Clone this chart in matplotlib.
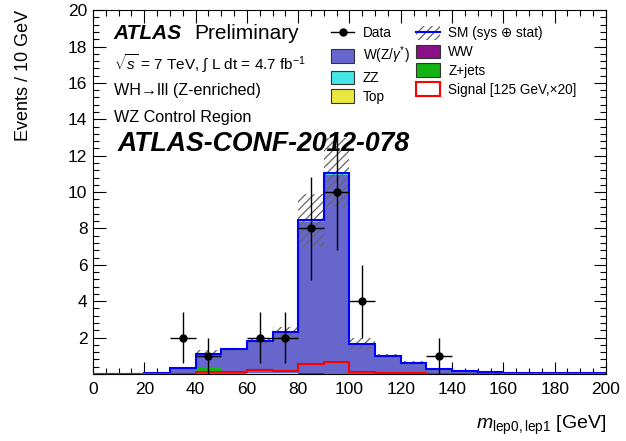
import numpy as np
import matplotlib
matplotlib.use('Agg')
import matplotlib.pyplot as plt
from matplotlib.patches import Patch
from matplotlib.lines import Line2D
from matplotlib.ticker import MultipleLocator, FuncFormatter

plt.rcParams['font.family'] = ['Liberation Sans', 'DejaVu Sans']
plt.rcParams['mathtext.fontset'] = 'custom'
plt.rcParams['mathtext.rm'] = 'Liberation Sans'
plt.rcParams['mathtext.it'] = 'Liberation Sans:italic'
plt.rcParams['mathtext.bf'] = 'Liberation Sans:bold'
plt.rcParams['hatch.linewidth'] = 0.9

# m(lep0,lep1) bins, 10 GeV wide
edges = np.arange(0, 201, 10)

# stacked backgrounds (bottom -> top)
zjets = [0, 0, 0, 0, 0.35, 0, 0.02, 0, 0, 0, 0, 0, 0, 0, 0, 0, 0, 0, 0, 0]
top = [0, 0, 0, 0, 0, 0, 0.03, 0.05, 0.02, 0, 0, 0, 0, 0, 0, 0, 0, 0, 0, 0]
ww = [0, 0, 0, 0.01, 0, 0.01, 0.02, 0.02, 0.01, 0.01, 0.01, 0.01, 0, 0, 0, 0, 0, 0, 0, 0]
wz = [0, 0, 0.05, 0.3, 0.70, 1.30, 1.68, 2.18, 8.34, 10.95, 1.60, 0.95, 0.60, 0.28, 0.18, 0.10, 0.06, 0.04, 0.03, 0.04]
zz = [0, 0, 0.01, 0.03, 0.03, 0.04, 0.05, 0.05, 0.08, 0.10, 0.04, 0.03, 0.02, 0.02, 0.01, 0.01, 0.01, 0.01, 0.01, 0.01]
sm_err = [0, 0, 0.02, 0.05, 0.22, 0.10, 0.15, 0.30, 1.45, 1.90, 0.30, 0.12, 0.08, 0.05, 0.03, 0.02, 0.02, 0.01, 0.01, 0.01]

# signal mH = 125 GeV, x20 (not stacked)
signal = [0.01, 0.01, 0.01, 0.01, 0.10, 0.10, 0.22, 0.19, 0.57, 0.68, 0.11, 0.05, 0.03, 0.02, 0.01, 0.01, 0.01, 0.01, 0.01, 0.01]

# data
data_x = [35, 45, 65, 75, 85, 95, 105, 135]
data_y = [2, 1, 2, 2, 8, 10, 4, 1]

components = [
    (zjets, '#14b314'),
    (top, '#e8e840'),
    (ww, '#8b0f87'),
    (wz, '#6666cc'),
    (zz, '#44e6e6'),
]

fig = plt.figure(figsize=(6.26, 4.41), dpi=100)
ax = fig.add_axes([0.1486, 0.152, 0.8194, 0.825])

bottom = np.zeros(len(edges) - 1)
for vals, col in components:
    vals = np.array(vals, dtype=float)
    ax.stairs(bottom + vals, edges, baseline=bottom.copy(), fill=True,
              color=col, lw=0, zorder=2)
    bottom = bottom + vals
total = bottom

# SM uncertainty band
err = np.array(sm_err)
centers = 0.5 * (edges[:-1] + edges[1:])
ax.bar(centers, 2 * err, width=10, bottom=total - err, fill=False,
       hatch='////', edgecolor='#666666', lw=0, zorder=3)

ax.stairs(total, edges, color='#0000ff', lw=1.5, zorder=4)
ax.stairs(signal, edges, color='#ff0000', lw=1.5, zorder=5)

ax.errorbar(data_x, data_y, yerr=np.sqrt(data_y), xerr=5, fmt='o',
            color='black', ms=5, lw=1, capsize=0, zorder=6)

ax.set_xlim(0, 200)
ax.set_ylim(0, 20)
ax.xaxis.set_major_locator(MultipleLocator(20))
ax.xaxis.set_minor_locator(MultipleLocator(5))
ax.yaxis.set_major_locator(MultipleLocator(2))
ax.yaxis.set_minor_locator(MultipleLocator(0.4))
ax.yaxis.set_major_formatter(FuncFormatter(lambda v, p: '' if v == 0 else f'{v:g}'))
ax.tick_params(which='both', direction='in', top=True, right=True, labelsize=12.5)
ax.tick_params(which='major', length=9, width=0.8)
ax.tick_params(which='minor', length=4.5, width=0.8)
ax.tick_params(axis='x', pad=6)
ax.tick_params(axis='y', pad=4)

fig.text(0.037, 0.977, 'Events / 10 GeV', rotation=90, ha='center', va='top', fontsize=13)
fig.text(0.968, 0.036, r'$m_{\mathrm{lep0,lep1}}$ [GeV]', ha='right', va='center', fontsize=14)

# labels
ax.text(0.04, 0.935, 'ATLAS', transform=ax.transAxes, fontsize=15,
        fontweight='bold', fontstyle='italic', va='center')
ax.text(0.198, 0.935, 'Preliminary', transform=ax.transAxes, fontsize=15, va='center')
ax.text(0.04, 0.855, r'$\sqrt{s}$ = 7 TeV, $\int$ L dt = 4.7 fb$^{-1}$',
        transform=ax.transAxes, fontsize=11, va='center')
ax.text(0.04, 0.78, 'WH→lll (Z-enriched)', transform=ax.transAxes,
        fontsize=11.6, va='center')
ax.text(0.04, 0.705, 'WZ Control Region', transform=ax.transAxes, fontsize=11.6, va='center')
ax.text(0.048, 0.633, 'ATLAS-CONF-2012-078', transform=ax.transAxes, fontsize=19.2,
        fontweight='bold', fontstyle='italic', va='center')

# legend
h_data = Line2D([], [], color='black', marker='o', ms=5, lw=1)
h_sm = (Patch(facecolor='white', hatch='////', edgecolor='#666666', lw=0),
        Line2D([], [], color='#0000ff', lw=1.5))
handles = [
    h_data,
    Patch(facecolor='#6666cc', edgecolor='#333333', lw=0.8),
    Patch(facecolor='#44e6e6', edgecolor='#333333', lw=0.8),
    Patch(facecolor='#e8e840', edgecolor='#333333', lw=0.8),
    h_sm,
    Patch(facecolor='#8b0f87', edgecolor='#333333', lw=0.8),
    Patch(facecolor='#14b314', edgecolor='#333333', lw=0.8),
    Patch(facecolor='white', edgecolor='#ff0000', lw=1.5),
]
labels = ['Data', r'W(Z/$\gamma^{*}$)', 'ZZ', 'Top',
          'SM (sys ⊕ stat)', 'WW', 'Z+jets', 'Signal [125 GeV,×20]']
ax.legend(handles, labels, ncol=2, loc='upper left', bbox_to_anchor=(0.45, 0.975),
          frameon=False, fontsize=9.8, handlelength=1.75, handleheight=1.15,
          handletextpad=0.6, columnspacing=0.5, labelspacing=0.32, borderpad=0)

fig.savefig('out.png', dpi=100)
